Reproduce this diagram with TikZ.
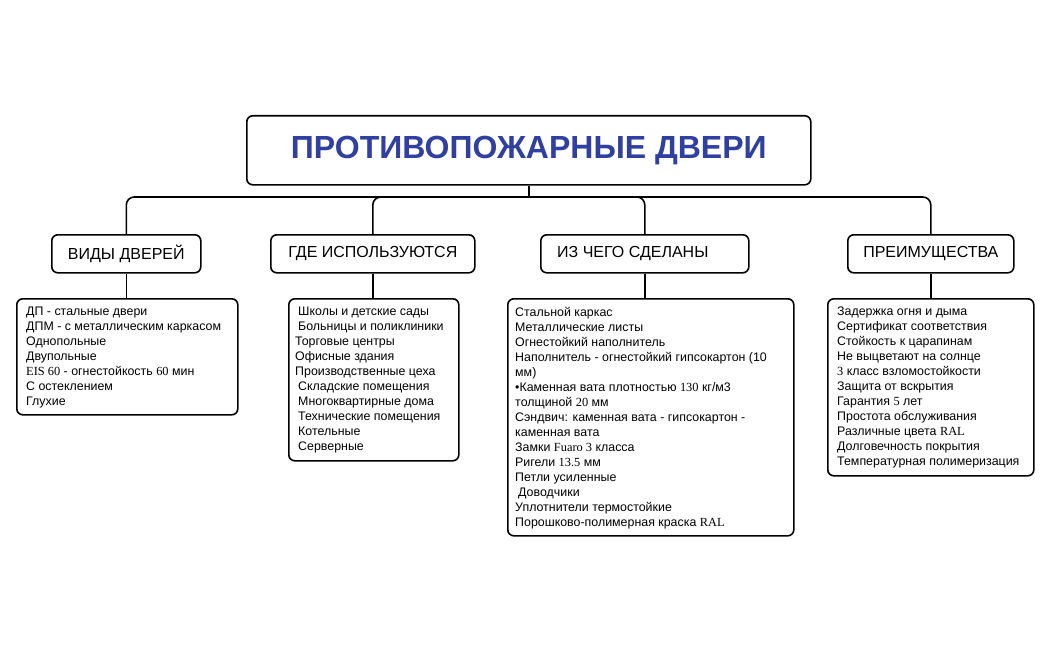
\documentclass[tikz,border=0pt]{standalone}
\usepackage{fontspec}
\setmainfont{Liberation Sans}
\newfontfamily\serifnum{Liberation Serif}
\definecolor{ttl}{HTML}{3040A0}
\begin{document}
\begin{tikzpicture}[x=1pt,y=-1pt,
  box/.style={draw,line width=1.6pt,rounded corners=6pt,anchor=north west,inner sep=0pt},
  txt/.style={anchor=north west,align=left,font=\fontsize{12.4}{15}\selectfont,inner sep=0pt},
  cat/.style={font=\fontsize{16}{18}\selectfont},
  con/.style={line width=1.6pt}]
\useasboundingbox (0,0) rectangle (1049,650);
\node[box,minimum width=564pt,minimum height=69pt] (title) at (246,115) {};
\node[font=\fontsize{32}{36}\selectfont\bfseries,text=ttl] at (title.center) {ПРОТИВОПОЖАРНЫЕ ДВЕРИ};
\node[box,minimum width=149pt,minimum height=38pt] (k1) at (51,234) {};
\node[box,minimum width=204pt,minimum height=38pt] (k2) at (270,234) {};
\node[box,minimum width=208pt,minimum height=38pt] (k3) at (540,234) {};
\node[box,minimum width=166pt,minimum height=38pt] (k4) at (847,234) {};
\node[cat] at (k1.center) {ВИДЫ ДВЕРЕЙ};
\node[cat] at (k2.center) {ГДЕ ИСПОЛЬЗУЮТСЯ};
\node[cat] at ([xshift=-12pt]k3.center) {ИЗ ЧЕГО СДЕЛАНЫ};
\node[cat] at (k4.center) {ПРЕИМУЩЕСТВА};
\coordinate (bus) at (0,197);
\draw[con] (title.south) -- (title.south |- bus);
\draw[con,rounded corners=8pt] (k1.north) -- (k1.north |- bus) -- (k4.north |- bus) -- (k4.north);
\draw[con,rounded corners=8pt] (k2.north) -- (k2.north |- bus) -- ([xshift=20pt]k2.north |- bus);
\draw[con,rounded corners=8pt] (k3.north) -- (k3.north |- bus) -- ([xshift=-20pt]k3.north |- bus);
\node[box,minimum width=221pt,minimum height=116pt] (c1) at (16,298) {};
\node[box,minimum width=170pt,minimum height=162pt] (c2) at (288,298) {};
\node[box,minimum width=286pt,minimum height=237pt] (c3) at (507,298) {};
\node[box,minimum width=206pt,minimum height=177pt] (c4) at (827,298) {};
\foreach \i in {1,2,3,4}{\draw[con] (k\i.south) -- (k\i.south |- c\i.north);}
\node[txt] at ([shift={(10pt,-9pt)}]c1.north west) {ДП - стальные двери\\ДПМ - с металлическим каркасом\\Однопольные\\Двупольные\\{\serifnum EIS 60} - огнестойкость {\serifnum 60} мин\\С остеклением\\Глухие};
\node[txt] at ([shift={(7pt,-9pt)}]c2.north west) {\hspace{3pt}Школы и детские сады\\\hspace{3pt}Больницы и поликлиники\\Торговые центры\\Офисные здания\\Производственные цеха\\\hspace{3pt}Складские помещения\\\hspace{3pt}Многоквартирные дома\\\hspace{3pt}Технические помещения\\\hspace{3pt}Котельные\\\hspace{3pt}Серверные};
\node[txt] at ([shift={(8pt,-9pt)}]c3.north west) {Стальной каркас\\Металлические листы\\Огнестойкий наполнитель\\Наполнитель - огнестойкий гипсокартон (10\\мм)\\•Каменная вата плотностью {\serifnum 130} кг/м3\\толщиной {\serifnum 20} мм\\Сэндвич: каменная вата - гипсокартон -\\каменная вата\\Замки {\serifnum Fuaro 3} класса\\Ригели {\serifnum 13.5} мм\\Петли усиленные\\\hspace{3pt}Доводчики\\Уплотнители термостойкие\\Порошково-полимерная краска {\serifnum RAL}};
\node[txt] at ([shift={(10pt,-9pt)}]c4.north west) {Задержка огня и дыма\\Сертификат соответствия\\Стойкость к царапинам\\Не выцветают на солнце\\{\serifnum 3} класс взломостойкости\\Защита от вскрытия\\Гарантия {\serifnum 5} лет\\Простота обслуживания\\Различные цвета {\serifnum RAL}\\Долговечность покрытия\\Температурная полимеризация};
\end{tikzpicture}
\end{document}
